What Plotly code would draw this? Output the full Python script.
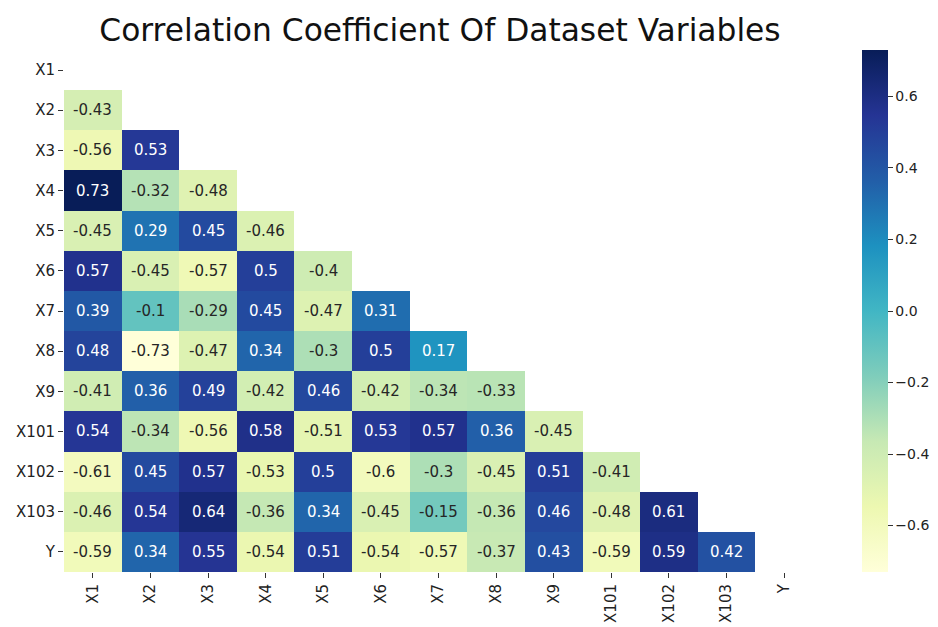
import numpy as np
import plotly.graph_objects as go

labels = ["X1", "X2", "X3", "X4", "X5", "X6", "X7", "X8", "X9", "X101", "X102", "X103", "Y"]

# lower-triangle correlation values (row i, columns 0..i-1)
row_X2 = [-0.43]
row_X3 = [-0.56, 0.53]
row_X4 = [0.73, -0.32, -0.48]
row_X5 = [-0.45, 0.29, 0.45, -0.46]
row_X6 = [0.57, -0.45, -0.57, 0.5, -0.4]
row_X7 = [0.39, -0.1, -0.29, 0.45, -0.47, 0.31]
row_X8 = [0.48, -0.73, -0.47, 0.34, -0.3, 0.5, 0.17]
row_X9 = [-0.41, 0.36, 0.49, -0.42, 0.46, -0.42, -0.34, -0.33]
row_X101 = [0.54, -0.34, -0.56, 0.58, -0.51, 0.53, 0.57, 0.36, -0.45]
row_X102 = [-0.61, 0.45, 0.57, -0.53, 0.5, -0.6, -0.3, -0.45, 0.51, -0.41]
row_X103 = [-0.46, 0.54, 0.64, -0.36, 0.34, -0.45, -0.15, -0.36, 0.46, -0.48, 0.61]
row_Y = [-0.59, 0.34, 0.55, -0.54, 0.51, -0.54, -0.57, -0.37, 0.43, -0.59, 0.59, 0.42]

rows = [[], row_X2, row_X3, row_X4, row_X5, row_X6, row_X7, row_X8, row_X9,
        row_X101, row_X102, row_X103, row_Y]

n = len(labels)
z = np.full((n, n), np.nan)
for i, r in enumerate(rows):
    for j, v in enumerate(r):
        z[i, j] = v

zmin, zmax = -0.73, 0.73

ylgnbu = ["#ffffd9", "#edf8b1", "#c7e9b4", "#7fcdbb", "#41b6c4",
          "#1d91c0", "#225ea8", "#253494", "#081d58"]
colorscale = [[k / (len(ylgnbu) - 1), c] for k, c in enumerate(ylgnbu)]


def hex2rgb(h):
    return np.array([int(h[1:3], 16), int(h[3:5], 16), int(h[5:7], 16)]) / 255.0


stops = np.array([hex2rgb(c) for c in ylgnbu])


def cmap(v):
    t = (v - zmin) / (zmax - zmin)
    t = min(max(t, 0), 1) * (len(ylgnbu) - 1)
    k = min(int(np.floor(t)), len(ylgnbu) - 2)
    f = t - k
    return stops[k] * (1 - f) + stops[k + 1] * f


def lum(rgb):
    lin = np.where(rgb <= 0.03928, rgb / 12.92, ((rgb + 0.055) / 1.055) ** 2.4)
    return 0.2126 * lin[0] + 0.7152 * lin[1] + 0.0722 * lin[2]


fig = go.Figure()
fig.add_trace(go.Heatmap(
    z=z, x=labels, y=labels,
    colorscale=colorscale, zmin=zmin, zmax=zmax,
    hoverongaps=False,
    colorbar=dict(
        x=1.0654, xanchor="left", xpad=0, y=0.5, yanchor="middle", len=1.0, ypad=0,
        thickness=26, outlinewidth=0,
        tickmode="linear", tick0=0, dtick=0.2, tickformat=".1f",
        ticks="outside", ticklen=5, tickcolor="#333",
        tickfont=dict(family="DejaVu Sans", size=14, color="#222"),
    ),
))

annotations = []
for i in range(n):
    for j in range(n):
        v = z[i, j]
        if np.isnan(v):
            continue
        col = "#262626" if lum(cmap(v)) > 0.408 else "white"
        annotations.append(dict(
            x=labels[j], y=labels[i], text=f"{v:g}", showarrow=False,
            font=dict(family="DejaVu Sans", size=15, color=col),
        ))

fig.update_layout(
    width=930, height=619,
    margin=dict(l=56, r=125, t=42, b=55, autoexpand=False),
    paper_bgcolor="white", plot_bgcolor="white",
    title=dict(text="Correlation Coefficient Of Dataset Variables",
               x=0.4645, xanchor="center", y=0.9645, yanchor="middle",
               font=dict(family="DejaVu Sans", size=31.3, color="#111")),
    annotations=annotations,
    xaxis=dict(showgrid=False, zeroline=False, ticks="outside", ticklen=5,
               tickcolor="#333", tickangle=-90, automargin=False,
               tickfont=dict(family="DejaVu Sans", size=15, color="#222")),
    yaxis=dict(showgrid=False, zeroline=False, ticks="outside", ticklen=5,
               tickcolor="#333", autorange="reversed", automargin=False,
               tickfont=dict(family="DejaVu Sans", size=15, color="#222")),
)

fig.write_html("out.html")
